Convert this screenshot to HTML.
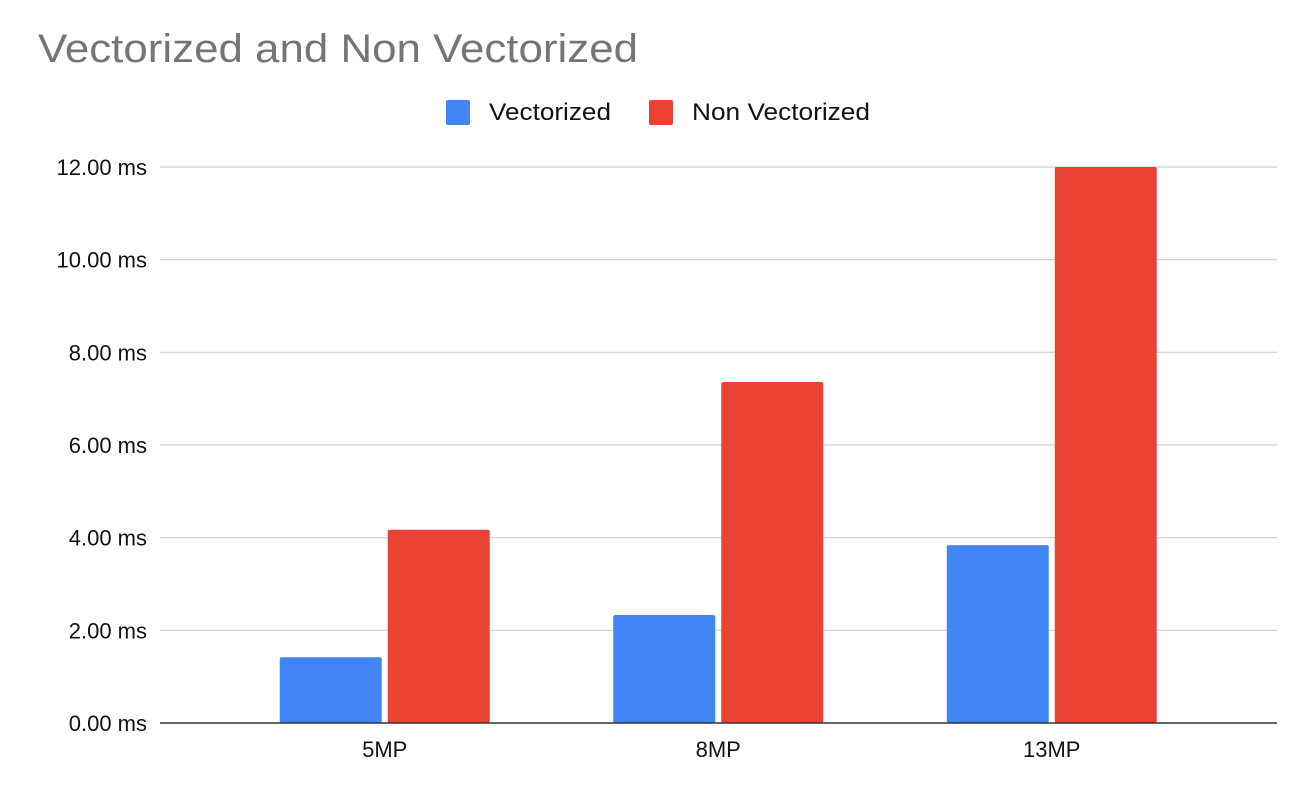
<!DOCTYPE html>
<html><head><meta charset="utf-8"><style>
html,body{margin:0;padding:0;background:#fff;}
svg{display:block;font-family:"Liberation Sans",Arial,sans-serif;}
</style></head><body>
<svg id="chart" width="1312" height="798" viewBox="0 0 1312 798">
<text x="38" y="62" font-size="40" fill="#757575" textLength="600" lengthAdjust="spacingAndGlyphs">Vectorized and Non Vectorized</text>
<g>
<rect x="446" y="100" width="24" height="25" rx="2" fill="#4285f4"/>
<text x="489" y="120" font-size="24" fill="#111" textLength="122" lengthAdjust="spacingAndGlyphs">Vectorized</text>
<rect x="649" y="100" width="24" height="25" rx="2" fill="#ea4335"/>
<text x="692" y="120" font-size="24" fill="#111" textLength="178" lengthAdjust="spacingAndGlyphs">Non Vectorized</text>
</g>
<g id="grid"></g><g id="bars"></g><g id="axis"></g><g id="labels"></g>
</svg>
<script>
const categories = ["5MP","8MP","13MP"];
const vectorized = [1.42, 2.33, 3.84];
const nonVectorized = [4.17, 7.36, 12.0];
const yTicks = [0,2,4,6,8,10,12];
const yTickLabels = ["0.00 ms","2.00 ms","4.00 ms","6.00 ms","8.00 ms","10.00 ms","12.00 ms"];

const NS="http://www.w3.org/2000/svg";
const y0=723, y12=167, yMax=12;
function yScale(v){return y0-(v/yMax)*(y0-y12);}
const bandLeft=218, band=333.5;
function xCenter(i){return bandLeft+band*(i+0.5);}
function mk(tag,attrs,parent){const e=document.createElementNS(NS,tag);for(const k in attrs)e.setAttribute(k,attrs[k]);parent.appendChild(e);return e;}
const grid=document.getElementById('grid'),bars=document.getElementById('bars'),labels=document.getElementById('labels'),axis=document.getElementById('axis');
yTicks.forEach((t,i)=>{
  const y=yScale(t);
  const l=mk('line',{x1:160,x2:1277,y1:y,y2:y,stroke:i===0?'#333':'#cfcfcf','stroke-width':i===0?1.5:1.2},i===0?axis:grid);
  
  
  const tx=mk('text',{x:147,y:y+8,'font-size':22,fill:'#111','text-anchor':'end'},labels);
  tx.textContent=yTickLabels[i];
  
  
});
const bw=102, gap=6;
categories.forEach((c,i)=>{
  const cx=xCenter(i);
  const yb=yScale(vectorized[i]);
  const b1=mk('rect',{x:cx-gap/2-bw,y:yb,width:bw,height:y0-yb,fill:'#4285f4',rx:2},bars);
  
  
  const yr=yScale(nonVectorized[i]);
  const b2=mk('rect',{x:cx+gap/2,y:yr,width:bw,height:y0-yr,fill:'#ea4335',rx:2},bars);
  
  
  const t=mk('text',{x:cx,y:757,'font-size':22,fill:'#111','text-anchor':'middle'},labels);
  t.textContent=c;
  
  
});
</script>
</body></html>
